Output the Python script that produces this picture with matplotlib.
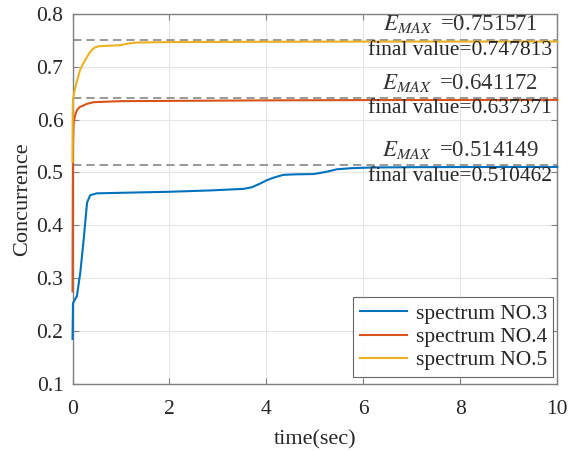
import numpy as np
import matplotlib.pyplot as plt

plt.rcParams['font.family'] = ['Liberation Serif', 'DejaVu Serif']
plt.rcParams['mathtext.fontset'] = 'stix'

# spectrum NO.3
t3 = [0, 0.01, 0.09, 0.16, 0.23, 0.30, 0.365, 0.5, 1.0, 2.0, 2.84, 3.53, 3.7, 3.87,
      4.0, 4.14, 4.35, 4.6, 4.97, 5.1, 5.25, 5.45, 5.73, 6.2, 7, 8, 9, 10]
c3 = [0.185, 0.253, 0.266, 0.31, 0.373, 0.443, 0.457, 0.4605, 0.4615, 0.4635, 0.466, 0.469,
      0.472, 0.479, 0.485, 0.490, 0.4955, 0.4965, 0.497, 0.499, 0.5015, 0.506, 0.508, 0.5095,
      0.5100, 0.5103, 0.5104, 0.510462]
# spectrum NO.4
t4 = [0, 0.005, 0.01, 0.02, 0.04, 0.07, 0.1, 0.15, 0.23, 0.3, 0.43, 0.7, 1.0, 2, 4, 6, 8, 10]
c4 = [0.275, 0.45, 0.55, 0.59, 0.603, 0.613, 0.619, 0.624, 0.627, 0.630, 0.633, 0.634,
      0.635, 0.6355, 0.6365, 0.637, 0.6372, 0.637371]
# spectrum NO.5
t5 = [0, 0.003, 0.006, 0.01, 0.03, 0.06, 0.1, 0.16, 0.22, 0.27, 0.32, 0.37, 0.42, 0.47,
      0.55, 0.65, 0.8, 0.99, 1.15, 1.33, 2, 4, 6, 8, 10]
c5 = [0.52, 0.60, 0.625, 0.638, 0.648, 0.662, 0.676, 0.695, 0.706, 0.714, 0.722, 0.729,
      0.734, 0.737, 0.739, 0.7395, 0.740, 0.741, 0.744, 0.746, 0.7468, 0.7474, 0.7477,
      0.7478, 0.747813]

emax = [0.514149, 0.641172, 0.751571]
final = [0.510462, 0.637371, 0.747813]
names = ['spectrum NO.3', 'spectrum NO.4', 'spectrum NO.5']
colors = ['#0072BD', '#D95319', '#EDB120']

fig = plt.figure(figsize=(5.71, 4.51), dpi=100)
ax = fig.add_axes([0.127, 0.149, 0.849, 0.82])

for t, c, name, col in zip([t3, t4, t5], [c3, c4, c5], names, colors):
    ax.plot(t, c, color=col, lw=1.5, label=name, zorder=3, clip_on=False)

for e, f in zip(emax, final):
    ax.axhline(e, color='#888888', lw=1.2, ls=(0, (5, 3)), zorder=2)
    ax.text(8, e + 0.029, r'$E_{MAX}\;\;$=%.6f' % e, ha='center', va='center',
            fontsize=16.5, color='#333333')
    ax.text(8, e - 0.021, 'final value=%.6f' % f, ha='center', va='center',
            fontsize=15.5, color='#262626')

ax.set_xlim(0, 10)
ax.set_ylim(0.1, 0.8)
ax.set_xticks([0, 2, 4, 6, 8, 10])
ax.set_yticks(np.arange(0.1, 0.81, 0.1))
ax.set_yticklabels(['0.1', '0.2', '0.3', '0.4', '0.5', '0.6', '0.7', '0.8'])
ax.grid(True, color='#e6e6e6', lw=0.8)
ax.set_axisbelow(True)
ax.tick_params(direction='in', top=True, right=True, labelsize=15.5, labelcolor='#262626',
               color='#808080', length=4, width=0.8)
ax.tick_params(axis='x', pad=12)
ax.tick_params(axis='y', pad=6.5)
for s in ax.spines.values():
    s.set_color('#808080')
    s.set_linewidth(1.0)
ax.set_xlabel('time(sec)', fontsize=16, color='#262626', labelpad=8)
ax.set_ylabel('Concurrence', fontsize=16, color='#262626', labelpad=3)

leg = ax.legend(loc='lower right', bbox_to_anchor=(1 - 4 / 485, 7 / 370), borderaxespad=0,
                fontsize=15.5, fancybox=False, edgecolor='#404040', labelcolor='#262626',
                handlelength=2.2, handletextpad=0.4, borderpad=0.3, labelspacing=0.15)
leg.get_frame().set_linewidth(0.8)

fig.savefig('out.png', dpi=100)
